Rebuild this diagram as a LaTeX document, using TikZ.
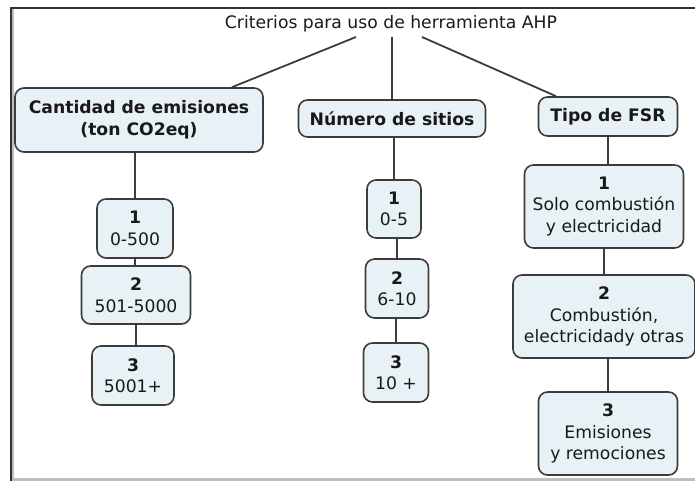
\documentclass[tikz,border=0pt]{standalone}
\usepackage{fontspec}
\setmainfont{DejaVu Sans}
\definecolor{boxfill}{RGB}{232,241,245}
\definecolor{boxline}{RGB}{60,60,60}
\definecolor{frameline}{RGB}{50,50,50}
\definecolor{framegray}{RGB}{190,190,190}
\tikzset{
  cbox/.style={draw=boxline, line width=1.6pt, fill=boxfill, rounded corners=9pt,
    align=center, inner sep=0pt, text=black!90, font=\fontsize{17.2}{21.5}\selectfont},
  conn/.style={draw=boxline, line width=1.8pt}
}
\begin{document}
\begin{tikzpicture}[x=1pt,y=-1pt]
\useasboundingbox (0,0) rectangle (695,481);
% frame
\draw[framegray, line width=3pt] (11,479) -- (695,479);
\draw[framegray, line width=2pt] (13,9) -- (13,481);
\draw[frameline, line width=2pt] (10,8.5) -- (695,8.5);
\draw[frameline, line width=2pt] (11,8.5) -- (11,481);

% title
\node[font=\fontsize{17.2}{21}\selectfont, inner sep=0pt, text=black!90] (title) at (391,24) {Criterios para uso de herramienta AHP};
\coordinate (t1) at (356,37);
\coordinate (t2) at (392,37);
\coordinate (t3) at (422,37);

% level 1
\node[cbox, minimum width=248pt, minimum height=64pt] (cant) at (139,120) {\textbf{Cantidad de emisiones}\\\textbf{(ton CO2eq)}};
\node[cbox, minimum width=187pt, minimum height=37pt] (num) at (392,118.5) {\textbf{Número de sitios}};
\node[cbox, minimum width=139pt, minimum height=39pt] (tipo) at (608,116.5) {\textbf{Tipo de FSR}};

% left column
\node[cbox, minimum width=76pt, minimum height=59pt] (L1) at (135,228.5) {\textbf{1}\\0-500};
\node[cbox, minimum width=109pt, minimum height=58pt] (L2) at (136,295) {\textbf{2}\\501-5000};
\node[cbox, minimum width=82pt, minimum height=59pt] (L3) at (133,375.5) {\textbf{3}\\5001+};

% middle column
\node[cbox, minimum width=54pt, minimum height=58pt] (M1) at (394,209) {\textbf{1}\\0-5};
\node[cbox, minimum width=63pt, minimum height=59pt] (M2) at (397,288.5) {\textbf{2}\\6-10};
\node[cbox, minimum width=65pt, minimum height=59pt] (M3) at (396,372.5) {\textbf{3}\\10 +};

% right column
\node[cbox, minimum width=159pt, minimum height=83pt] (R1) at (604,206.5) {\textbf{1}\\Solo combustión\\y electricidad};
\node[cbox, minimum width=182pt, minimum height=83pt] (R2) at (604,316.5) {\textbf{2}\\Combustión,\\electricidady otras};
\node[cbox, minimum width=139pt, minimum height=83pt] (R3) at (608,433.5) {\textbf{3}\\Emisiones\\y remociones};

% connectors from title
\draw[conn] (t1) -- ([xshift=93pt]cant.north);
\draw[conn] (t2) -- (num.north);
\draw[conn] (t3) -- ([xshift=-52pt]tipo.north);

% vertical connectors
\draw[conn] (L1.north |- cant.south) -- (L1.north);
\draw[conn] (L1.south) -- (L1.south |- L2.north);
\draw[conn] (L2.south) -- (L2.south |- L3.north);

\draw[conn] (M1.north |- num.south) -- (M1.north);
\draw[conn] (M2.north |- M1.south) -- (M2.north);
\draw[conn] (M3.north |- M2.south) -- (M3.north);

\draw[conn] (tipo.south) -- (tipo.south |- R1.north);
\draw[conn] (R2.north |- R1.south) -- (R2.north);
\draw[conn] (R3.north |- R2.south) -- (R3.north);
\end{tikzpicture}
\end{document}
